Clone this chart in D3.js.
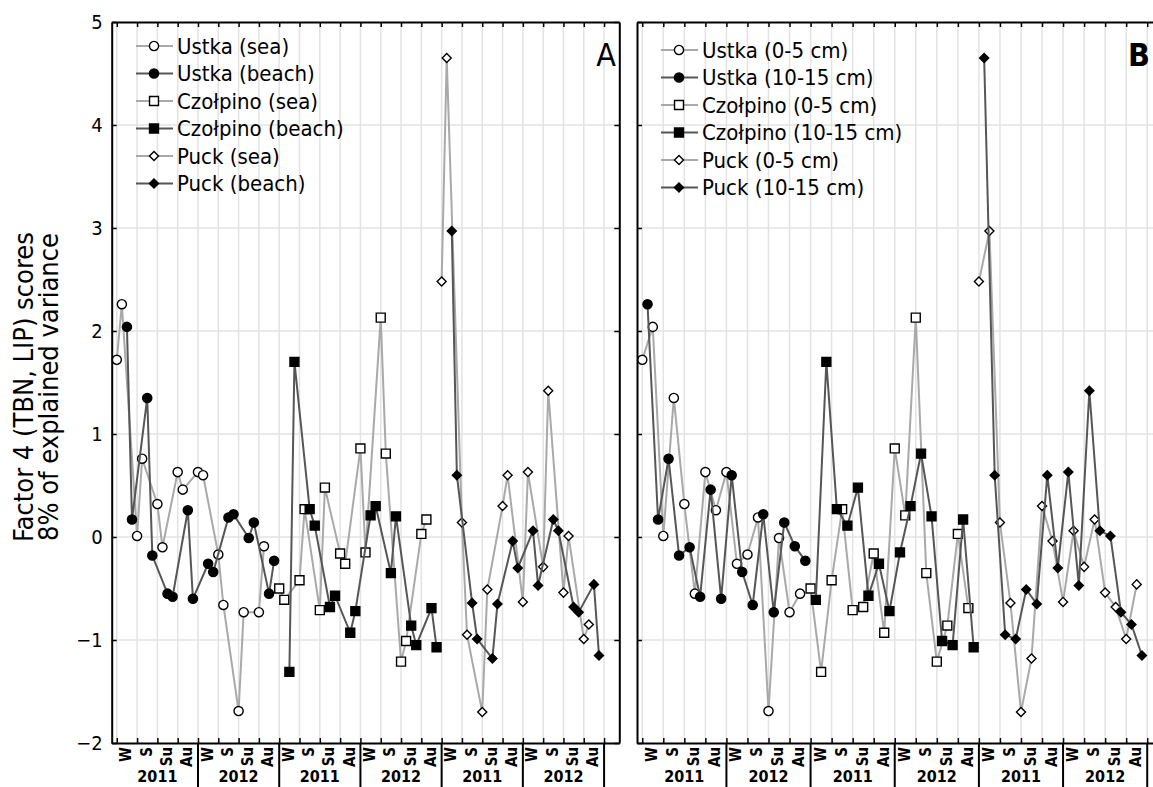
<!DOCTYPE html>
<html>
<head>
<meta charset="utf-8">
<script src="https://cdn.jsdelivr.net/npm/d3@7"></script>
<style>
  body { margin: 0; background: #fff; }
  svg text { font-family: "DejaVu Sans Condensed", "DejaVu Sans", sans-serif; font-stretch: condensed; }
</style>
</head>
<body>
<svg id="chart" width="1153" height="787"></svg>
<script>
// categories
const seasons = ["W", "S", "Su", "Au"];
const years = ["2011", "2012", "2011", "2012", "2011", "2012"];
const yTicks = [-2, -1, 0, 1, 2, 3, 4, 5];
const sites = ["Ustka", "Czołpino", "Puck"];
// every date has 4 samples in this order
const sampleKinds = ["sea 0-5", "sea 10-15", "beach 0-5", "beach 10-15"];

// factor 4 scores, one value per sample, in sampling order (8 dates x 4 samples)
const ustka = [1.72, 2.26, 2.04, 0.17, 0.01, 0.76, 1.35, -0.18,
  0.32, -0.10, -0.55, -0.58, 0.63, 0.46, 0.26, -0.60,
  0.63, 0.60, -0.26, -0.34, -0.17, -0.66, 0.19, 0.22,
  -1.69, -0.73, -0.01, 0.14, -0.73, -0.09, -0.55, -0.23];
const czolpino = [-0.50, -0.61, -1.31, 1.70, -0.42, 0.27, 0.27, 0.11,
  -0.71, 0.48, -0.68, -0.57, -0.16, -0.26, -0.93, -0.72,
  0.86, -0.15, 0.21, 0.30, 2.13, 0.81, -0.35, 0.20,
  -1.21, -1.01, -0.86, -1.05, 0.03, 0.17, -0.69, -1.07];
const puck = [2.48, 4.65, 2.97, 0.60, 0.14, -0.95, -0.64, -0.99,
  -1.70, -0.51, -1.18, -0.65, 0.30, 0.60, -0.04, -0.30,
  -0.63, 0.63, 0.06, -0.47, -0.29, 1.42, 0.17, 0.06,
  -0.54, 0.01, -0.68, -0.73, -0.99, -0.85, -0.46, -1.15];
const siteValues = [ustka, czolpino, puck];

// flat sample table: i is the running sample number on the x axis
const samples = [];
siteValues.forEach((vals, s) => {
  vals.forEach((v, j) => {
    samples.push({ i: s * 32 + j, site: sites[s], kind: sampleKinds[j % 4], value: v });
  });
});

const svg = d3.select("#chart");
const y = d3.scaleLinear().domain([-2, 5]).range([743, 22]);
const symbolTypes = { "Ustka": d3.symbolCircle, "Czołpino": d3.symbolSquare, "Puck": d3.symbolDiamond2 };
const symbolSizes = { "Ustka": 66, "Czołpino": 80, "Puck": 52 };
const lightLine = "#a9a9a9";
const darkLine = "#565656";

function drawPanel(opts) {
  const x = d3.scaleLinear().domain([-1, 99]).range(opts.range);
  const g = svg.append("g");
  const top = y(5), bottom = y(-2);
  const tickIdx = d3.range(0, 97, 4);

  // grid
  g.append("g").selectAll("line").data(tickIdx).join("line")
    .attr("x1", d => x(d)).attr("x2", d => x(d))
    .attr("y1", top).attr("y2", bottom)
    .attr("stroke", "#e3e3e3").attr("stroke-width", 1.5);
  g.append("g").selectAll("line").data(yTicks.slice(1, -1)).join("line")
    .attr("x1", opts.range[0]).attr("x2", opts.range[1])
    .attr("y1", d => y(d)).attr("y2", d => y(d))
    .attr("stroke", "#e3e3e3").attr("stroke-width", 1.5);

  // series
  const series = [];
  sites.forEach(site => {
    opts.groups.forEach(grp => {
      series.push({
        site, open: grp.open, label: `${site} (${grp.name})`,
        points: samples.filter(d => d.site === site && grp.kinds.includes(d.kind))
      });
    });
  });

  const line = d3.line().x(d => x(d.i)).y(d => y(d.value));
  series.forEach(s => {
    g.append("path")
      .datum(s.points)
      .attr("d", line)
      .attr("fill", "none")
      .attr("stroke", s.open ? lightLine : darkLine)
      .attr("stroke-width", 2);
    g.append("g").selectAll("path").data(s.points).join("path")
      .attr("transform", d => `translate(${x(d.i)},${y(d.value)})`)
      .attr("d", d3.symbol(symbolTypes[s.site], symbolSizes[s.site]))
      .attr("fill", s.open ? "#fff" : "#000")
      .attr("stroke", "#000")
      .attr("stroke-width", 1.4);
  });

  // axes (ticks point inward)
  const axisStyle = a => a.select(".domain").attr("stroke-width", 2);
  g.append("g").attr("transform", `translate(0,${bottom})`)
    .call(d3.axisBottom(x).tickValues(tickIdx).tickSizeInner(-5).tickSizeOuter(0).tickFormat(""))
    .call(axisStyle);
  g.append("g").attr("transform", `translate(0,${top})`)
    .call(d3.axisTop(x).tickValues(tickIdx).tickSizeInner(-5).tickSizeOuter(0).tickFormat(""))
    .call(axisStyle);
  const left = g.append("g").attr("transform", `translate(${opts.range[0]},0)`)
    .call(d3.axisLeft(y).tickValues(yTicks).tickSizeInner(-5).tickSizeOuter(0).tickPadding(9)
      .tickFormat(opts.yLabels ? d3.format("d") : ""))
    .call(axisStyle);
  left.selectAll("text").attr("font-size", 20).attr("fill", "#000")
    .style("font-family", "'DejaVu Sans Condensed','DejaVu Sans',sans-serif");
  g.append("g").attr("transform", `translate(${opts.range[1]},0)`)
    .call(d3.axisRight(y).tickValues(yTicks).tickSizeInner(-5).tickSizeOuter(0).tickFormat(""))
    .call(axisStyle);
  g.selectAll(".tick line").attr("stroke-width", 1.5);

  // season labels
  const seasonData = d3.range(24).map(k => ({ k, name: seasons[k % 4] }));
  g.append("g").selectAll("text").data(seasonData).join("text")
    .attr("transform", d => `translate(${x(d.k * 4 + 2) - 1},${bottom + 4}) rotate(-90)`)
    .attr("text-anchor", "end")
    .attr("dy", "0.36em")
    .attr("font-size", 15)
    .attr("font-weight", "bold")
    .text(d => d.name);

  // year labels and separators
  g.append("g").selectAll("text").data(years).join("text")
    .attr("x", (d, k) => x(k * 16 + 8))
    .attr("y", 782)
    .attr("text-anchor", "middle")
    .attr("font-size", 16)
    .attr("font-weight", "bold")
    .text(d => d);
  g.append("g").selectAll("line").data(d3.range(1, 7)).join("line")
    .attr("x1", k => x(k * 16)).attr("x2", k => x(k * 16))
    .attr("y1", bottom).attr("y2", 787)
    .attr("stroke", "#000").attr("stroke-width", 2);

  // legend
  const legend = g.append("g").attr("transform", `translate(${opts.legend[0]},${opts.legend[1]})`);
  series.forEach((s, k) => {
    const row = legend.append("g").attr("transform", `translate(0,${k * 27.5})`);
    row.append("line").attr("x1", -18).attr("x2", 19)
      .attr("stroke", s.open ? lightLine : darkLine).attr("stroke-width", 2);
    row.append("path")
      .attr("d", d3.symbol(symbolTypes[s.site], symbolSizes[s.site]))
      .attr("fill", s.open ? "#fff" : "#000")
      .attr("stroke", "#000").attr("stroke-width", 1.4);
    row.append("text")
      .attr("x", 23).attr("dy", "0.36em")
      .attr("font-size", 22)
      .text(s.label);
  });

  // panel letter
  g.append("text")
    .attr("x", opts.letter[0]).attr("y", opts.letter[1])
    .attr("text-anchor", "end")
    .attr("font-size", 32)
    .attr("font-weight", opts.bold ? "bold" : "normal")
    .text(opts.name);
}

drawPanel({
  name: "A",
  range: [111.7, 619.3],
  yLabels: true,
  legend: [154, 46],
  letter: [616, 66],
  groups: [
    { name: "sea", kinds: ["sea 0-5", "sea 10-15"], open: true },
    { name: "beach", kinds: ["beach 0-5", "beach 10-15"], open: false }
  ]
});

drawPanel({
  name: "B",
  range: [637, 1163],
  yLabels: false,
  bold: true,
  legend: [679, 50],
  letter: [1150, 66],
  groups: [
    { name: "0-5 cm", kinds: ["sea 0-5", "beach 0-5"], open: true },
    { name: "10-15 cm", kinds: ["sea 10-15", "beach 10-15"], open: false }
  ]
});

// y axis title
const yTitle = svg.append("text")
  .attr("transform", `translate(0,387) rotate(-90)`)
  .attr("text-anchor", "middle")
  .attr("font-size", 27);
yTitle.append("tspan").attr("x", 0).attr("y", 33).text("Factor 4 (TBN, LIP) scores");
yTitle.append("tspan").attr("x", 0).attr("y", 58).text("8% of explained variance");
</script>
</body>
</html>
